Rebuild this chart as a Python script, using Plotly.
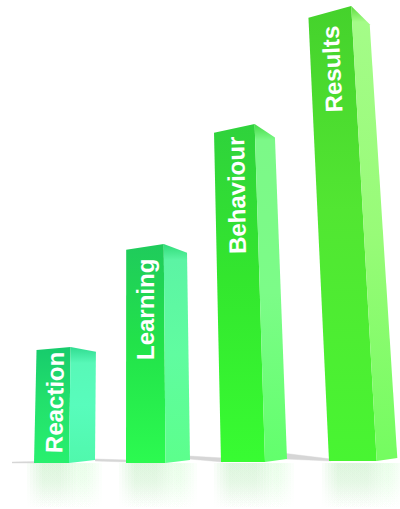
import plotly.graph_objects as go

# Four Kirkpatrick levels drawn as perspective columns on a reflective floor
categories = ["Reaction", "Learning", "Behaviour", "Results"]
values = [116, 219, 338, 455]

# Footprint of each column on the floor: left, front corner, right
base_left = [34, 126, 221, 329]
base_mid = [69, 165.5, 265, 376.7]
base_right = [95, 190, 287, 397.3]
base_lift = [0, 0, 1, 2]

# Face colours, floor to top
front_colors = [
    ["#28f06e", "#22e06c", "#17cb6c"],
    ["#2cfa50", "#22e24a", "#1fcb5c"],
    ["#38fc32", "#33e62e", "#2fd23c"],
    ["#48f532", "#52e632", "#45d22c"],
]
side_colors = [
    ["#50f8ac", "#58fcbc", "#58f8b8", "#30dc90"],
    ["#5cff8c", "#60fca0", "#5cf4a4", "#30dc78"],
    ["#62ff6c", "#7cfc88", "#7cf888", "#46dc48"],
    ["#74fc60", "#98fb78", "#a4fc88", "#5cdc3c"],
]

# Label anchors on the front faces
label_x = [54, 145, 236, 331.5]
label_y = [60, 153, 267, 394]
label_angle = [-89, -90, -91, -92.5]

# Contact shadows behind the columns: x span, then height above the floor at each end
shadow_from = [12, 95, 189, 286]
shadow_to = [36, 128, 223, 331]
shadow_top = [(1.0, 1.5), (4.0, 3.0), (7.0, 5.0), (9.5, 4.0)]
shadow_low = [(0.0, 0.0), (2.0, 1.0), (4.0, 1.0), (4.0, 2.0)]

# Projection constants: verticals converge upward towards the vanishing column
VANISH_X = 130
CONVERGE = 2.27e-4
DROP_LEFT = 0.026
DROP_RIGHT = 0.04
FLOOR_PX = 463


def project(x, h):
    return VANISH_X + (x - VANISH_X) * (1 - CONVERGE * h)


fig = go.Figure()


def polygon(xs, ys, **kw):
    fig.add_trace(go.Scatter(x=xs + xs[:1], y=ys + ys[:1], mode="lines", fill="toself",
                             line=dict(width=0), hoverinfo="skip", showlegend=False, **kw))


def reflection(left, right, rgb, strength):
    # Stacked translucent layers give the blurred sides of the mirrored faces
    for inset in [-7, -4, -1, 2, 5, 8]:
        polygon([left + inset, right - inset, right - inset, left + inset],
                [0, 0, -46, -46],
                fillgradient=dict(type="vertical", start=-46, stop=0,
                                  colorscale=[[0, f"rgba({rgb},0)"],
                                              [0.6, f"rgba({rgb},{strength * 0.75:.3f})"],
                                              [1, f"rgba({rgb},{strength:.3f})"]]))


for left, mid, right in zip(base_left, base_mid, base_right):
    reflection(left, mid, "170,230,170", 0.08)
    reflection(mid, right, "190,250,190", 0.065)

for x0, x1, (top0, top1), (low0, low1) in zip(shadow_from, shadow_to, shadow_top, shadow_low):
    polygon([x0, x1, x1, x0], [low0 - 0.5, low1 - 0.5, top1 + 0.5, top0 + 0.5],
            fillcolor="rgba(205,205,205,0.35)")
    polygon([x0, x1, x1, x0], [low0, low1, top1, top0],
            fillcolor="rgba(205,205,205,0.75)")

# Columns
for i, h in enumerate(values):
    lift = base_lift[i]
    top_left = (project(base_left[i], h), h * (1 - DROP_LEFT) + lift)
    top_mid = (project(base_mid[i], h), h + lift)
    top_right = (project(base_right[i], h), h * (1 - DROP_RIGHT) + lift)
    f = front_colors[i]
    polygon([base_left[i], base_mid[i], top_mid[0], top_left[0]],
            [lift, lift, top_mid[1], top_left[1]],
            fillgradient=dict(type="vertical", start=lift, stop=top_mid[1],
                              colorscale=[[0, f[0]], [0.55, f[1]], [1, f[2]]]))
    # The upper rim of the side face stays close to the front colour, then lightens
    s = side_colors[i]
    rim = 1 - 16 / h
    polygon([base_mid[i], base_right[i], top_right[0], top_mid[0]],
            [lift, lift + 3, top_right[1], top_mid[1]],
            fillgradient=dict(type="vertical", start=lift, stop=top_mid[1],
                              colorscale=[[0, s[0]], [0.5, s[1]], [rim, s[2]], [1, s[3]]]))

for name, x, y, angle in zip(categories, label_x, label_y, label_angle):
    fig.add_annotation(x=x, y=y, text=f"<b>{name}</b>", textangle=angle, showarrow=False,
                       font=dict(family="Liberation Sans", size=24, color="white"))

fig.update_layout(
    width=400, height=509, margin=dict(l=0, r=0, t=0, b=0),
    paper_bgcolor="white", plot_bgcolor="white", hovermode=False,
    xaxis=dict(range=[0, 400], visible=False, fixedrange=True),
    yaxis=dict(range=[FLOOR_PX - 509, FLOOR_PX], visible=False, fixedrange=True),
)
fig.write_html("out.html", config=dict(displayModeBar=False))
